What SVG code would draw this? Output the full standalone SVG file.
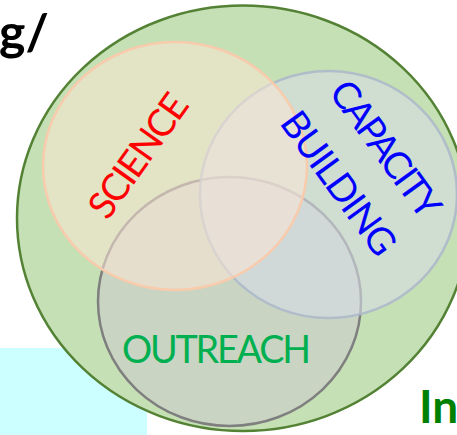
<svg xmlns="http://www.w3.org/2000/svg" width="457" height="435" viewBox="0 0 457 435">
  <style>
    .label { font-family: Lato, "Open Sans", "Liberation Sans", sans-serif; font-size: 37.7px; }
    .heading { font-family: Lato, "Liberation Sans", sans-serif; font-weight: bold; }
    .set { stroke-width: 2.5; }
  </style>

  <!-- partially visible caption boxes and headings at the edges -->
  <rect x="0" y="348" width="147" height="87" fill="#CCFFFF"/>
  <text class="heading" x="-1" y="50" font-size="50" fill="#000000">g/</text>

  <!-- outer domain -->
  <g id="domain">
    <ellipse class="set" cx="243" cy="218.3" rx="226" ry="212.7" fill="#C5E0B4" stroke="#548235"/>
  </g>

  <g id="outreach">
    <ellipse class="set" cx="229.5" cy="301.5" rx="131.5" ry="124.5" fill="#CCCCCC" fill-opacity="0.6" stroke="#7F7F7F"/>
  </g>

  <g id="capacity-building">
    <ellipse class="set" cx="328.5" cy="194.5" rx="128.5" ry="123.5" fill="#D6DCE4" fill-opacity="0.6" stroke="#ADB9CA" stroke-opacity="0.9"/>
  </g>

  <g id="science">
    <ellipse class="set" cx="175" cy="166" rx="132" ry="124" fill="#FBE5D6" fill-opacity="0.55" stroke="#F8CBAD"/>
  </g>

  <!-- set labels -->
  <text class="label" x="216.5" y="363" text-anchor="middle" textLength="189" fill="#00B050">OUTREACH</text>
  <g transform="translate(138 155.5) rotate(-54.5)">
    <text class="label" x="0" y="13.5" text-anchor="middle" textLength="143" fill="#FF0000">SCIENCE</text>
  </g>
  <g transform="translate(362.5 166) rotate(54)">
    <text class="label" x="0" y="-15.5" text-anchor="middle" textLength="160" fill="#0000FF">CAPACITY</text>
    <text class="label" x="0" y="42.5" text-anchor="middle" textLength="168" fill="#0000FF">BUILDING</text>
  </g>

  <text class="heading" x="419" y="423" font-size="46" fill="#008000">In</text>
</svg>
